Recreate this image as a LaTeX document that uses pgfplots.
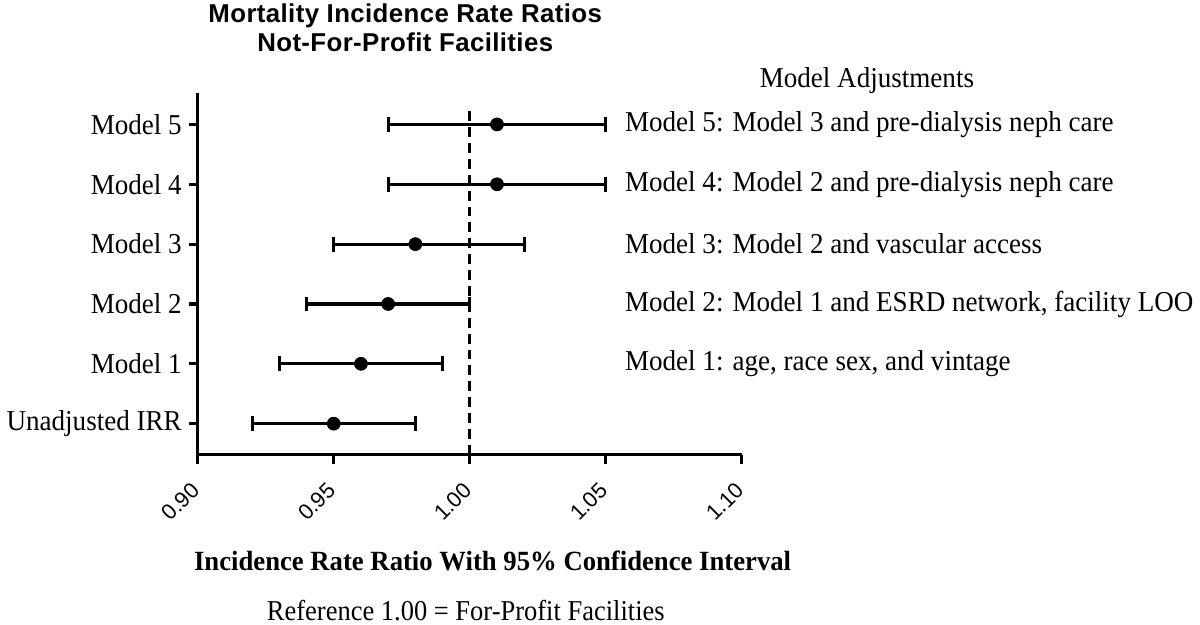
\documentclass[border=0pt]{standalone}
\usepackage{fontspec}
\usepackage{pgfplots}
\usepackage{pgfplotstable}
\pgfplotsset{compat=1.18}
\setmainfont{Liberation Serif}
\newfontfamily\labfont[FakeStretch=0.94]{Liberation Serif}
\newfontfamily\xlabfont[FakeStretch=0.96]{Liberation Serif}
\newfontfamily\reffont[FakeStretch=0.92]{Liberation Serif}
\newfontfamily\sansfont{Liberation Sans}
\newfontfamily\titlefont[LetterSpace=1.5]{Liberation Sans}

% pos: 0 = unadjusted, 1..5 = models
\pgfplotstableread{
pos est lo hi
0 0.95 0.92 0.98
1 0.96 0.93 0.99
2 0.97 0.94 1.00
3 0.98 0.95 1.02
4 1.01 0.97 1.05
5 1.01 0.97 1.05
}\irrdata

\begin{document}
\begin{tikzpicture}
\begin{axis}[
    at={(0,0)}, anchor=south west,
    scale only axis,
    width=274bp, height=182bp,
    xmin=0.9, xmax=1.1,
    ymin=-0.52, ymax=5.52,
    axis x line*=bottom,
    axis y line*=left,
    axis line style={line width=1.6bp, black},
    tick style={line width=1.6bp, black},
    tick align=outside,
    major tick length=4.5bp,
    xtick={0.9,0.95,1,1.05,1.1},
    xticklabels={0.90,0.95,1.00,1.05,1.10},
    xticklabel style={xshift=1.5bp, yshift=-9bp, rotate=45, anchor=east,
        font=\sansfont\fontsize{11bp}{13bp}\selectfont},
    ytick={0,1,2,3,4,5},
    yticklabels={Unadjusted IRR, Model 1, Model 2, Model 3, Model 4, Model 5},
    yticklabel style={font=\labfont\fontsize{14.5bp}{17bp}\selectfont},
    clip=false,
]
% reference line at 1.00
\addplot[black, line width=1.6bp, dash pattern=on 5bp off 3bp]
    coordinates {(1,-0.52) (1,5.28)};

\addplot[black, only marks, mark=*, mark size=3.25bp,
    error bars/.cd, x dir=both, x explicit,
    error mark=|,
    error bar style={line width=1.6bp, black},
    error mark options={black, mark size=3.75bp, line width=1.6bp}]
    table[x=est, y=pos,
      x error plus expr=\thisrow{hi}-\thisrow{est},
      x error minus expr=\thisrow{est}-\thisrow{lo}] {\irrdata};

\begin{scope}[font=\labfont\fontsize{14.5bp}{17bp}\selectfont]
\node[anchor=west] at (axis cs:1.0545,5) {Model 5: Model 3 and pre-dialysis neph care};
\node[anchor=west] at (axis cs:1.0545,4) {Model 4: Model 2 and pre-dialysis neph care};
\node[anchor=west] at (axis cs:1.0545,3) {Model 3: Model 2 and vascular access};
\node[anchor=west] at (axis cs:1.0545,2) {Model 2: Model 1 and ESRD network, facility LOO};
\node[anchor=west] at (axis cs:1.0545,1) {Model 1: age, race sex, and vintage};
\end{scope}
\end{axis}

% texts placed in pixel units of the reference (origin top left)
\begin{scope}[shift={(-97bp,229bp)}, x=0.5bp, y=-0.5bp]
\path[use as bounding box] (0,0) rectangle (1200,629);
\node[anchor=base, font=\titlefont\bfseries\fontsize{13bp}{16bp}\selectfont]
    at (403,23) {Mortality Incidence Rate Ratios};
\node[anchor=base, font=\titlefont\bfseries\fontsize{13bp}{16bp}\selectfont]
    at (403,52) {Not-For-Profit Facilities};
\node[font=\labfont\fontsize{14.5bp}{17bp}\selectfont] at (868,81) {Model Adjustments};
\node[anchor=base, font=\xlabfont\bfseries\fontsize{14bp}{17bp}\selectfont]
    at (491,575) {Incidence Rate Ratio With 95\% Confidence Interval};
\node[anchor=base, font=\reffont\fontsize{14.5bp}{17bp}\selectfont]
    at (464,625) {Reference 1.00 = For-Profit Facilities};
\end{scope}
\end{tikzpicture}
\end{document}
